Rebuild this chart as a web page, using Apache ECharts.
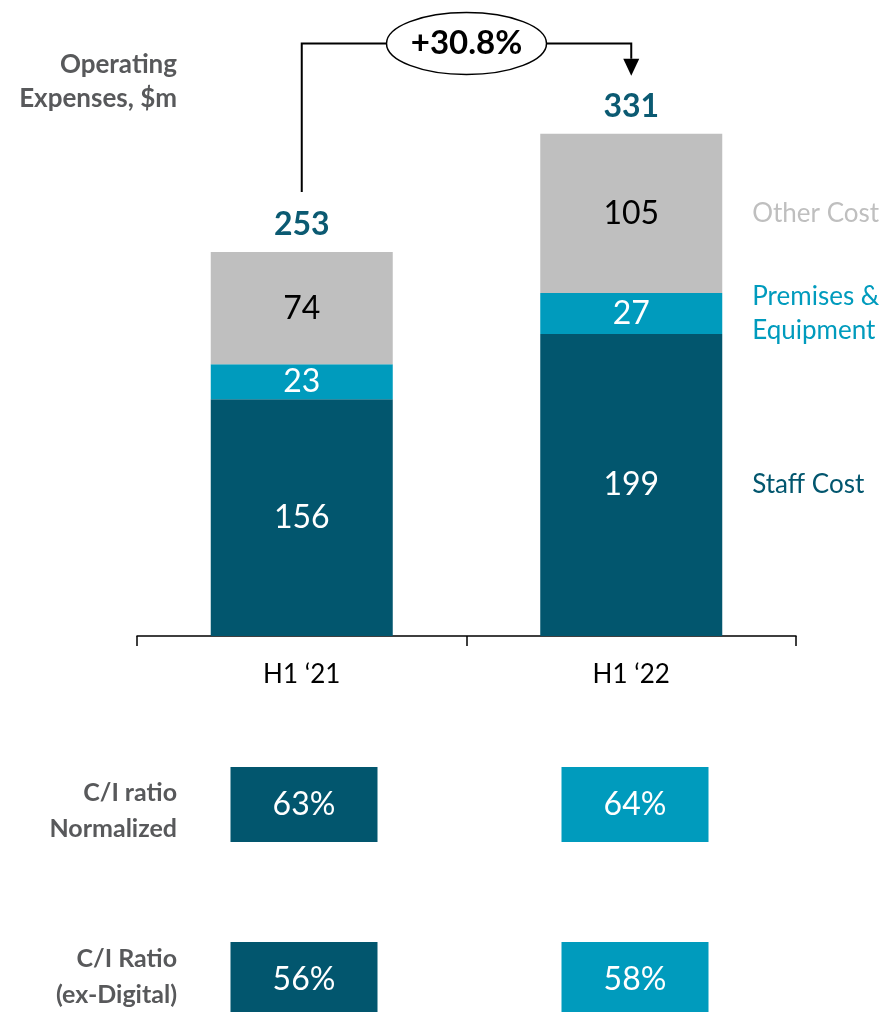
<!DOCTYPE html>
<html>
<head>
<meta charset="utf-8">
<script src="https://cdn.jsdelivr.net/npm/echarts@6/dist/echarts.min.js"></script>
<style>
html,body{margin:0;padding:0;background:#fff;}
#chart{width:890px;height:1012px;}
</style>
</head>
<body>
<div id="chart"></div>
<script>
const categories = ['H1 \u201821', 'H1 \u201822'];
const staffCost = [156, 199];
const premisesEquipment = [23, 27];
const otherCost = [74, 105];
const totals = [253, 331];
const changeLabel = '+30.8%';
const seriesNames = ['Staff Cost', 'Premises &\nEquipment', 'Other Cost'];
const axisTitle = 'Operating\nExpenses, $m';
const ratioRows = ['C/I ratio\nNormalized', 'C/I Ratio\n(ex-Digital)'];
const ciNormalized = [63, 64];
const ciExDigital = [56, 58];

const FONT = 'Lato, "Open Sans", sans-serif';
const C_STAFF = '#02566e';
const C_PREM = '#009bbd';
const C_OTHER = '#bfbfbf';
const C_GREY = '#58595b';
const C_TOTAL = '#0b5a72';
const boxColors = [C_STAFF, C_PREM];
const rowLabelShift = [6, -3];

const ratioData = [];
[ciNormalized, ciExDigital].forEach((arr, r) => {
  arr.forEach((v, c) => {
    ratioData.push({ value: [c, r, v], itemStyle: { color: boxColors[c], opacity: 1 } });
  });
});

const chart = echarts.init(document.getElementById('chart'), null, { renderer: 'canvas' });

const segLabel = (color) => ({
  show: true, position: 'inside', color: color, fontSize: 32, fontFamily: FONT
});

chart.setOption({
  animation: false,
  textStyle: { fontFamily: FONT },
  grid: [
    { left: 137, right: 94, top: 29, bottom: 376 },
    { left: 138.5, right: 89.5, top: 804.5, bottom: 32.5 }
  ],
  xAxis: [
    {
      type: 'category', gridIndex: 0, data: categories,
      axisLine: { lineStyle: { color: '#000', width: 1.5 } },
      axisTick: { show: true, length: 10, lineStyle: { color: '#000', width: 1.5 } },
      axisLabel: { color: '#000', fontSize: 26, margin: 26, fontFamily: FONT }
    },
    {
      type: 'category', gridIndex: 1, data: categories,
      axisLine: { show: false }, axisTick: { show: false }, axisLabel: { show: false }
    }
  ],
  yAxis: [
    { type: 'value', gridIndex: 0, min: 0, max: 400, show: false },
    {
      type: 'category', gridIndex: 1, inverse: true, boundaryGap: false,
      data: ratioRows,
      axisLine: { show: false }, axisTick: { show: false }, splitLine: { show: false },
      axisLabel: { show: false }
    }
  ],
  series: [
    {
      name: seriesNames[0], type: 'bar', stack: 'opex', data: staffCost,
      barWidth: 182, itemStyle: { color: C_STAFF }, label: segLabel('#fff')
    },
    {
      name: seriesNames[1], type: 'bar', stack: 'opex', data: premisesEquipment,
      barWidth: 182, itemStyle: { color: C_PREM }, label: segLabel('#fff')
    },
    {
      name: seriesNames[2], type: 'bar', stack: 'opex', data: otherCost,
      barWidth: 182, itemStyle: { color: C_OTHER }, label: segLabel('#000')
    },
    {
      name: 'Total', type: 'scatter', data: totals, symbolSize: 0,
      itemStyle: { opacity: 1 },
      label: {
        show: true, position: 'top', distance: 11, color: C_TOTAL,
        fontSize: 32, fontWeight: 'bold', fontFamily: FONT
      }
    },
    {
      name: 'C/I', type: 'scatter', xAxisIndex: 1, yAxisIndex: 1,
      symbol: 'rect', symbolSize: [147, 75], data: ratioData,
      itemStyle: { opacity: 1 },
      label: {
        show: true, position: 'inside', color: '#fff', fontSize: 32, fontFamily: FONT,
        formatter: (p) => p.value[2] + '%'
      }
    }
  ]
});

// annotations computed from the chart's own scales
const px = (c, v) => chart.convertToPixel({ xAxisIndex: 0, yAxisIndex: 0 }, [c, v]);
const top0 = px(0, totals[0]);
const top1 = px(1, totals[1]);
const lastIdx = categories.length - 1;
const staffMid = px(lastIdx, staffCost[lastIdx] / 2);
const premMid = px(lastIdx, staffCost[lastIdx] + premisesEquipment[lastIdx] / 2);
const otherMid = px(lastIdx, staffCost[lastIdx] + premisesEquipment[lastIdx] + otherCost[lastIdx] / 2);
const legendX = top1[0] + 121;
const bracketY = 43.5;
const ecx = (top0[0] + top1[0]) / 2;
const erx = 80, ery = 31;

const rowLabels = ratioRows.map((t, r) => {
  const y = chart.convertToPixel({ yAxisIndex: 1 }, r);
  return {
    type: 'text', x: 177, y: y + rowLabelShift[r],
    style: {
      text: t, align: 'right', verticalAlign: 'middle',
      fill: C_GREY, font: 'bold 25px ' + FONT, lineHeight: 36
    }
  };
});

chart.setOption({
  graphic: rowLabels.concat([
    {
      type: 'text', x: 177, y: 82,
      style: {
        text: axisTitle, align: 'right', verticalAlign: 'middle',
        fill: C_GREY, font: 'bold 26px ' + FONT, lineHeight: 34
      }
    },
    {
      type: 'polyline',
      shape: { points: [[top0[0], top0[1] - 60], [top0[0], bracketY], [ecx - erx, bracketY]] },
      style: { stroke: '#000', lineWidth: 2, fill: null }
    },
    {
      type: 'polyline',
      shape: { points: [[ecx + erx, bracketY], [top1[0], bracketY], [top1[0], top1[1] - 75]] },
      style: { stroke: '#000', lineWidth: 2, fill: null }
    },
    {
      type: 'polygon',
      shape: { points: [[top1[0] - 8, top1[1] - 75], [top1[0] + 8, top1[1] - 75], [top1[0], top1[1] - 58]] },
      style: { fill: '#000' }
    },
    {
      type: 'ellipse',
      shape: { cx: ecx, cy: bracketY, rx: erx, ry: ery },
      style: { fill: '#fff', stroke: '#000', lineWidth: 1.5 }
    },
    {
      type: 'text', x: ecx, y: bracketY,
      style: {
        text: changeLabel, align: 'center', verticalAlign: 'middle',
        fill: '#000', font: 'bold 33px ' + FONT
      }
    },
    {
      type: 'text', x: legendX, y: otherMid[1],
      style: { text: seriesNames[2], verticalAlign: 'middle', fill: C_OTHER, font: '26px ' + FONT }
    },
    {
      type: 'text', x: legendX, y: premMid[1],
      style: { text: seriesNames[1], verticalAlign: 'middle', fill: C_PREM, font: '26px ' + FONT, lineHeight: 34 }
    },
    {
      type: 'text', x: legendX, y: staffMid[1],
      style: { text: seriesNames[0], verticalAlign: 'middle', fill: C_STAFF, font: '26px ' + FONT }
    }
  ])
});
</script>
</body>
</html>
